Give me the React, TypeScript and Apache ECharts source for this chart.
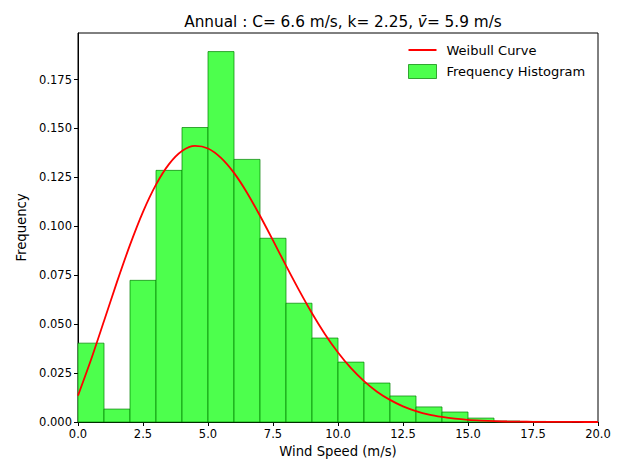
import React, { useEffect, useRef } from "react";
import * as echarts from "echarts";

const binStarts = [0, 1, 2, 3, 4, 5, 6, 7, 8, 9, 10, 11, 12, 13, 14, 15, 16, 17, 18];
const binWidth = 1;
const frequencies = [0.0403, 0.0066, 0.0724, 0.1286, 0.1505, 0.1893, 0.1342, 0.0939, 0.0607, 0.0429, 0.0306, 0.0199, 0.0133, 0.0077, 0.0051, 0.002, 0.0005, 0.0003, 0.0002];

const curveX = [0, 0.5, 1, 1.5, 2, 2.5, 3, 3.5, 4, 4.5, 5, 5.5, 6, 6.5, 7, 7.5, 8, 8.5, 9, 9.5, 10, 10.5, 11, 11.5, 12, 12.5, 13, 13.5, 14, 14.5, 15, 15.5, 16, 16.5, 17, 17.5, 18, 18.5, 19, 19.5, 20];
const curveY = [0.0135, 0.0318, 0.0516, 0.0716, 0.0905, 0.1074, 0.1213, 0.1318, 0.1385, 0.1411, 0.1398, 0.135, 0.1273, 0.1172, 0.1054, 0.0928, 0.0799, 0.0674, 0.0556, 0.0449, 0.0355, 0.0275, 0.0209, 0.0155, 0.0113, 0.008, 0.0056, 0.0038, 0.0026, 0.0017, 0.0011, 0.0007, 0.0004, 0.00025, 0.00015, 0.00009, 0.00005, 0.00003, 0.00002, 0.00001, 0.00001];

const yTicks = [0, 0.025, 0.05, 0.075, 0.1, 0.125, 0.15, 0.175];
const xMin = 0;
const xMax = 20;
const xInterval = 2.5;
const yMax = 0.1988;

const FONT = "DejaVu Sans";

export default function App() {
  const ref = useRef<HTMLDivElement>(null);
  useEffect(() => {
    if (!ref.current) return;
    const chart = echarts.init(ref.current, null, { renderer: "svg" });
    const histData = binStarts.map((s, i) => [s, s + binWidth, frequencies[i]]);
    const lineData = curveX.map((x, i) => [x, curveY[i]]);
    chart.setOption({
      animation: false,
      backgroundColor: "#ffffff",
      title: {
        text: "{a|Annual : C= 6.6 m/s, k= 2.25, }{i|v̄}{a|= 5.9 m/s}",
        left: 338,
        top: 9,
        textAlign: "center",
        textStyle: {
          rich: {
            a: { fontFamily: FONT, fontSize: 15.3, fontWeight: "normal", color: "#000" },
            i: { fontFamily: FONT, fontSize: 15.3, fontWeight: "normal", color: "#000", fontStyle: "italic" },
          },
        },
      },
      legend: {
        orient: "vertical",
        left: 403,
        top: 38,
        itemWidth: 28,
        itemHeight: 14,
        itemGap: 7,
        textStyle: { fontFamily: FONT, fontSize: 13, color: "#000", padding: [0, 0, 0, 5] },
        data: [
          {
            name: "Weibull Curve",
            icon: "path://M0,0h28v0.01h-28z M0,6h28v2h-28z M0,14h28v0.01h-28z",
            itemStyle: { color: "#ff0000" },
          },
          {
            name: "Frequency Histogram",
            icon: "rect",
            itemStyle: { color: "#4dff4d", borderColor: "rgba(0,128,0,0.7)", borderWidth: 1 },
          },
        ],
      },
      grid: {
        left: 78,
        right: 22,
        top: 33,
        bottom: 39,
        outerBoundsMode: "none",
        containLabel: false,
        show: true,
        borderColor: "#000",
        borderWidth: 1,
        backgroundColor: "transparent",
      },
      xAxis: {
        type: "value",
        min: xMin,
        max: xMax,
        interval: xInterval,
        name: "Wind Speed (m/s)",
        nameLocation: "middle",
        nameGap: 22,
        nameTextStyle: { fontFamily: FONT, fontSize: 13.2, color: "#000" },
        splitLine: { show: false },
        axisLine: { show: true, lineStyle: { color: "#000", width: 1 } },
        axisTick: { show: true, length: 4, lineStyle: { color: "#000" } },
        axisLabel: {
          fontFamily: FONT,
          fontSize: 11.5,
          color: "#000",
          margin: 6,
          formatter: (v: number) => v.toFixed(1),
        },
      },
      yAxis: {
        type: "value",
        min: 0,
        max: yMax,
        name: "Frequency",
        nameLocation: "middle",
        nameGap: 49,
        nameTextStyle: { fontFamily: FONT, fontSize: 13.2, color: "#000" },
        splitLine: { show: false },
        axisLine: { show: true, lineStyle: { color: "#000", width: 1 } },
        axisTick: { show: true, length: 4, lineStyle: { color: "#000" }, customValues: yTicks },
        axisLabel: {
          fontFamily: FONT,
          fontSize: 11.5,
          color: "#000",
          margin: 6,
          customValues: yTicks,
          formatter: (v: number) => v.toFixed(3),
        },
      },
      series: [
        {
          name: "Frequency Histogram",
          type: "custom",
          z: 2,
          itemStyle: { color: "#4dff4d", borderColor: "rgba(0,128,0,0.7)", borderWidth: 1 },
          encode: { x: [0, 1], y: 2 },
          data: histData,
          renderItem: (params: any, api: any) => {
            const p0 = api.coord([api.value(0), api.value(2)]);
            const p1 = api.coord([api.value(1), 0]);
            return {
              type: "rect",
              shape: { x: p0[0], y: p0[1], width: p1[0] - p0[0], height: p1[1] - p0[1] },
              style: { fill: "#4dff4d", stroke: "rgba(0,128,0,0.7)", lineWidth: 1 },
            };
          },
        },
        {
          name: "Weibull Curve",
          type: "line",
          z: 3,
          data: lineData,
          showSymbol: false,
          symbol: "none",
          smooth: 0.3,
          lineStyle: { color: "#ff0000", width: 1.8 },
          itemStyle: { color: "#ff0000" },
        },
      ],
    });
    return () => chart.dispose();
  }, []);
  return (
    <div
      ref={ref}
      style={{ position: "absolute", left: 0, top: 0, width: 620, height: 461 }}
    />
  );
}
